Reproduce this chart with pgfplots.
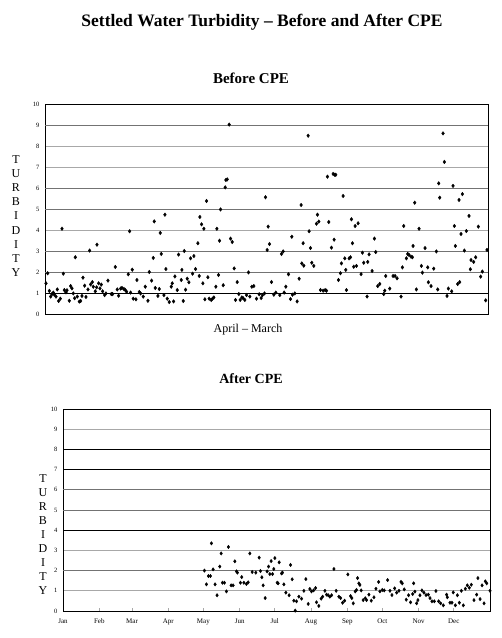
\documentclass[border=0pt]{standalone}
\usepackage{fontspec}
\setmainfont{Liberation Serif}
\usepackage{pgfplots}
\pgfplotsset{compat=1.18}
\usepackage{pgfplotstable}

\pgfplotstableread{
x y
138 1.46
143 1.94
148 1.10
152 0.83
156 0.95
160 1.02
163 0.92
168 0.83
172 1.17
176 0.62
181 0.73
186 4.06
190 1.92
193 1.14
198 1.03
201 1.13
208 0.63
212 1.33
216 1.22
220 0.98
224 0.75
226 2.70
232 0.83
238 0.59
242 0.62
246 0.86
249 1.73
254 1.35
258 0.81
264 1.17
269 3.02
272 1.41
277 1.52
280 1.30
286 1.08
290 1.27
291 3.30
296 1.46
300 1.22
304 1.40
308 1.08
314 0.90
318 0.98
324 1.59
334 0.95
338 0.95
346 2.24
352 1.17
356 0.87
362 1.21
366 1.24
372 1.19
376 1.14
380 1.06
385 1.89
389 3.94
392 1.02
397 2.11
400 0.73
408 0.70
411 1.62
418 1.05
422 0.98
430 0.83
436 1.30
444 0.63
448 2.00
455 1.59
460 2.67
463 4.41
466 1.24
474 0.86
478 1.19
481 3.86
484 2.86
492 0.90
495 4.73
498 2.14
502 0.73
508 0.57
514 1.30
517 1.46
521 0.60
525 1.79
532 1.14
536 2.83
544 1.62
546 2.10
550 0.62
553 3.00
557 1.16
562 1.68
567 1.51
572 2.65
578 1.92
582 2.76
587 2.14
594 3.37
598 1.81
600 4.62
605 4.27
609 1.46
612 4.06
615 0.70
620 5.38
624 1.75
628 0.73
634 0.67
638 0.73
642 0.79
648 1.30
651 4.06
656 1.86
659 3.49
662 4.98
670 1.37
676 6.03
678 6.38
682 6.41
688 9.02
692 3.59
697 3.43
703 2.17
707 0.67
712 1.52
717 0.95
721 0.67
726 0.79
730 0.75
735 0.67
740 0.90
746 1.98
750 0.83
756 1.30
762 1.33
770 0.73
778 0.94
784 0.76
788 0.90
794 0.98
797 5.56
802 3.05
805 4.16
809 3.33
815 1.52
822 0.92
828 1.02
840 0.90
845 2.86
850 2.98
853 1.02
858 1.30
866 1.89
872 0.71
876 3.68
878 0.92
885 0.98
892 0.60
898 1.68
904 5.19
906 2.41
910 3.37
912 2.30
925 8.49
928 3.94
932 3.14
936 2.44
942 2.29
950 4.30
953 4.73
957 4.40
962 1.14
970 1.11
976 1.14
980 1.11
983 6.54
987 4.38
995 3.16
1000 6.67
1003 3.54
1005 6.63
1008 6.63
1016 1.62
1022 1.94
1025 2.41
1030 5.62
1035 2.65
1038 2.10
1040 1.14
1048 2.65
1052 2.70
1055 4.51
1058 3.37
1062 2.25
1066 4.19
1070 2.29
1075 4.32
1084 1.90
1088 2.92
1092 2.44
1102 0.83
1104 2.48
1108 2.84
1117 2.05
1124 3.59
1128 2.95
1134 1.33
1140 1.43
1152 0.95
1155 1.11
1158 1.81
1170 1.21
1180 1.81
1186 1.81
1192 1.70
1204 0.83
1208 2.22
1212 4.19
1220 2.65
1224 2.86
1228 2.81
1234 2.73
1238 2.70
1240 3.24
1245 5.30
1250 1.17
1258 4.06
1265 2.29
1268 1.97
1276 3.14
1284 2.22
1286 1.51
1294 1.33
1302 2.16
1310 2.98
1314 1.17
1317 6.22
1320 5.54
1330 8.60
1334 7.24
1342 0.86
1346 1.21
1356 1.08
1360 6.10
1364 4.19
1367 3.24
1374 1.43
1378 5.43
1380 1.52
1384 3.81
1388 5.71
1394 3.02
1400 3.95
1408 4.67
1412 2.13
1414 2.57
1422 2.48
1428 2.70
1436 4.16
1443 1.78
1448 2.02
1458 0.65
1462 3.05
}\before

\pgfplotstableread{
x y
120.9 2.00
122.6 1.32
124.3 1.73
126.0 1.73
126.9 3.35
128.3 2.06
130.0 1.32
131.7 0.78
134.0 2.20
135.2 2.85
136.3 1.40
138.0 1.40
139.7 0.97
141.4 3.17
143.7 1.27
145.4 1.27
146.9 2.46
148.3 1.96
149.1 1.90
151.7 1.40
152.8 1.68
154.6 1.40
156.8 1.34
158.3 1.42
159.7 2.85
161.7 1.93
164.8 1.90
167.7 2.64
168.8 1.98
170.0 1.67
171.1 1.27
172.8 0.64
174.5 1.96
175.7 2.20
176.8 1.83
177.9 2.47
179.1 1.83
180.2 2.08
181.1 2.62
183.1 1.40
183.9 1.37
184.8 2.41
186.8 1.86
187.6 1.90
188.8 1.32
190.5 0.91
193.3 0.78
194.5 2.28
195.9 1.57
197.3 0.51
198.5 0.02
199.6 0.48
201.6 0.71
203.9 0.61
205.9 1.00
207.6 1.58
209.6 0.35
211.0 1.09
212.4 0.97
214.2 1.02
215.9 1.14
216.7 0.43
218.7 0.25
220.7 0.61
221.9 0.71
223.9 1.00
225.3 0.81
226.7 0.78
228.1 0.71
229.6 0.78
231.6 2.08
233.5 1.00
235.8 0.71
237.3 0.64
239.0 0.41
240.7 0.51
243.5 1.81
245.8 0.74
246.9 0.64
248.1 0.38
249.8 0.97
250.9 1.04
251.8 1.63
252.9 1.37
253.8 1.29
254.9 1.02
256.6 0.54
258.4 0.63
259.5 0.54
261.5 0.81
263.5 0.51
265.8 0.68
267.5 1.10
269.8 1.44
270.9 0.97
272.9 1.04
274.6 1.02
277.5 1.53
279.5 1.00
281.2 0.79
283.5 1.12
285.2 0.91
287.2 1.00
288.9 1.44
290.0 1.37
291.7 1.07
293.4 0.56
295.4 0.78
297.1 0.43
298.9 0.84
299.7 1.37
300.8 0.96
302.3 0.38
303.4 0.54
305.1 0.78
306.8 1.02
308.5 0.91
310.3 0.79
312.3 0.81
313.7 0.64
315.4 0.48
317.4 0.48
318.8 0.99
321.1 0.48
322.8 0.38
325.1 0.28
327.9 0.81
328.5 0.68
330.8 0.41
332.5 0.41
333.6 0.92
335.4 0.28
337.1 0.78
338.8 0.41
340.5 1.00
342.2 0.28
343.9 1.10
345.6 1.27
347.3 1.15
349.0 1.30
351.3 0.54
353.6 0.81
354.7 1.63
356.5 0.59
358.2 1.27
359.9 0.38
361.0 1.47
362.2 1.37
365.0 1.00
}\after

\definecolor{gl}{gray}{0.66}
\definecolor{gd}{gray}{0.45}

\begin{document}
\begin{tikzpicture}
\path[use as bounding box] (0pt,0pt) rectangle (502pt,638pt);

\node[font=\bfseries\fontsize{17.5}{20}\selectfont] at (262pt,616pt) {Settled Water Turbidity -- Before and After CPE};
\node[font=\bfseries\fontsize{15}{17}\selectfont] at (251pt,560pt) {Before CPE};
\node[font=\bfseries\fontsize{14}{16}\selectfont] at (251pt,259pt) {After CPE};
\node[font=\fontsize{12}{14}\selectfont] at (248pt,308pt) {April -- March};
\node[font=\fontsize{12}{14.1}\selectfont, align=center, inner sep=0pt] at (16pt,422pt) {T\\U\\R\\B\\I\\D\\I\\T\\Y};
\node[font=\fontsize{12}{14}\selectfont, align=center, inner sep=0pt] at (43pt,103pt) {T\\U\\R\\B\\I\\D\\I\\T\\Y};

% Top axis
\begin{axis}[
  at={(45pt,324pt)}, anchor=south west, scale only axis,
  width=443pt, height=210pt,
  xmin=135, xmax=1465, ymin=0, ymax=10,
  xtick=\empty,
  ytick={0,...,10},
  ytick style={draw=none},
  ymajorgrids, major grid style={gl, line width=0.8pt},
  extra y ticks={2,3,5,6,9}, extra y tick labels={},
  extra y tick style={grid=major, major grid style={gd, line width=0.8pt}, ytick style={draw=none}},
  axis line style={black, line width=0.8pt},
  /pgf/number format/assume math mode=true,
  yticklabel style={font=\fontsize{6.5}{8}\selectfont, xshift=-2pt},
  clip=false,
]
\addplot[black, line width=0.8pt, no marks, forget plot] coordinates {(135,1) (1465,1)};
\addplot[only marks, mark=diamond*, mark size=1.8pt, black] table[x=x,y=y] {\before};
\end{axis}

% Bottom axis
\begin{axis}[
  at={(63pt,27pt)}, anchor=south west, scale only axis,
  width=427pt, height=202pt,
  xmin=0, xmax=365, ymin=0, ymax=10,
  xtick={0,31,59,90,120,151,181,212,243,273,304,334},
  xticklabels={Jan,Feb,Mar,Apr,May,Jun,Jul,Aug,Sep,Oct,Nov,Dec},
  xtick style={gl, line width=0.6pt},
  major tick length=2.5pt,
  tick pos=bottom,
  ytick={0,...,10},
  ytick style={draw=none},
  ymajorgrids, major grid style={gl, line width=0.8pt},
  extra y ticks={2,5,6}, extra y tick labels={},
  extra y tick style={grid=major, major grid style={gd, line width=0.8pt}, ytick style={draw=none}},
  axis line style={black, line width=0.8pt},
  /pgf/number format/assume math mode=true,
  yticklabel style={font=\fontsize{6.5}{8}\selectfont, xshift=-2pt},
  xticklabel style={font=\fontsize{7}{8}\selectfont, yshift=-4pt},
  clip=false,
]
\addplot[black, line width=0.8pt, no marks, forget plot] coordinates {(0,4) (365,4)};
\addplot[black, line width=0.8pt, no marks, forget plot] coordinates {(0,7) (365,7)};
\addplot[black, line width=0.8pt, no marks, forget plot] coordinates {(0,8) (365,8)};
\addplot[only marks, mark=diamond*, mark size=1.7pt, black] table[x=x,y=y] {\after};
\end{axis}
\end{tikzpicture}
\end{document}
